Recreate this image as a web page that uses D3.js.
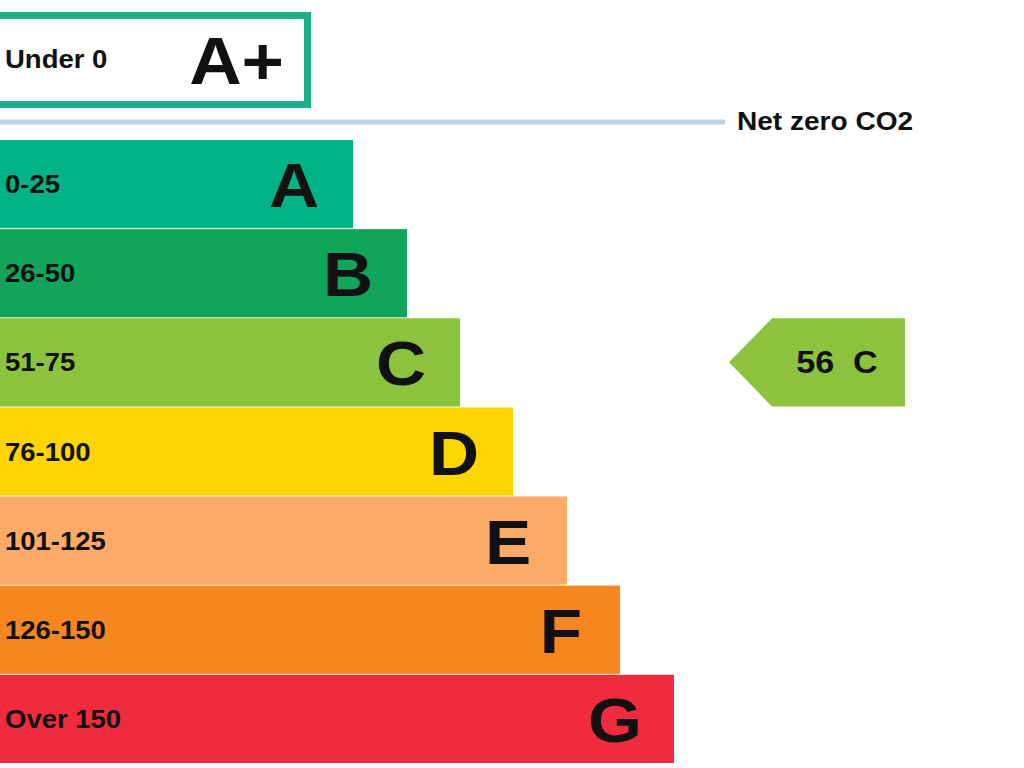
<!doctype html>
<html>
<head>
<meta charset="utf-8" />
<script src="https://d3js.org/d3.v7.min.js"></script>
<style>body{margin:0;background:#fff}</style>
</head>
<body>
<script>
var bands = ["A", "B", "C", "D", "E", "F", "G"];
var ranges = ["0-25", "26-50", "51-75", "76-100", "101-125", "126-150", "Over 150"];
var barLen = [353, 407, 460, 513, 567, 620, 674];
var colours = ["#00b386", "#13a45b", "#8dc23f", "#ffd500", "#fcaa65", "#f68720", "#ef2b3d"];
var current = { score: 56, band: "C" };

var svg = d3.select("body").append("svg").attr("width", 1024).attr("height", 768);
var font = "Liberation Sans, Arial, sans-serif";
var sx = 1.1;

// text stretched a bit wider, anchored at (x, y)
function label(x, y, txt, size, anchor) {
    return svg.append("text")
        .attr("transform", "translate(" + x + "," + y + ") scale(" + sx + ",1)")
        .attr("text-anchor", anchor || "start").attr("xml:space", "preserve").text(txt)
        .attr("font-family", font).attr("font-weight", "bold").attr("font-size", size).attr("fill", "#111");
}

var y = d3.scaleBand().domain(bands).range([140, 763]).paddingInner(0.01);

// A+ box
svg.append("rect").attr("x", -4).attr("y", 15.5).attr("width", 311.5).attr("height", 89)
    .attr("fill", "#fff").attr("stroke", "#1cb08a").attr("stroke-width", 7);
label(5, 68, "Under 0", 25);
label(284, 84, "A+", 66, "end");

// net zero line
svg.append("line").attr("x1", 0).attr("x2", 725).attr("y1", 122).attr("y2", 122)
    .attr("stroke", "#b9d5e5").attr("stroke-width", 5);
label(737, 130, "Net zero CO2", 25.5);

svg.selectAll("rect.band").data(bands).enter().append("rect").attr("class", "band")
    .attr("x", 0).attr("y", function (d) { return y(d); })
    .attr("width", function (d, i) { return barLen[i]; })
    .attr("height", y.bandwidth()).attr("fill", function (d, i) { return colours[i]; });
bands.forEach(function (d, i) {
    var mid = y(d) + y.bandwidth() / 2;
    label(5, mid + 9, ranges[i], 25);
    label(barLen[i] - 59, mid + 23, d, 63, "middle");
});

// current rating arrow
var cy = y(current.band), ch = y.bandwidth(), ci = bands.indexOf(current.band);
svg.append("path")
    .attr("d", "M729," + (cy + ch / 2) + "L772," + cy + "L905," + cy + "L905," + (cy + ch) + "L772," + (cy + ch) + "Z")
    .attr("fill", colours[ci]);
label(837, cy + ch / 2 + 11, current.score + "  " + current.band, 31, "middle");
</script>
</body>
</html>
